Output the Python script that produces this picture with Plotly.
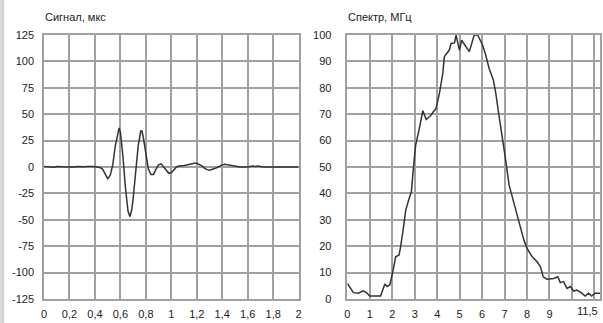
import plotly.graph_objects as go
from plotly.subplots import make_subplots

# Signal (time in microseconds, amplitude)
signal_t = [0.00, 0.02, 0.04, 0.06, 0.08, 0.10, 0.12, 0.14, 0.16, 0.18, 0.20, 0.22, 0.24,
            0.26, 0.28, 0.30, 0.32, 0.34, 0.36, 0.38, 0.40, 0.42, 0.44, 0.46, 0.48, 0.50,
            0.52, 0.54, 0.56, 0.58, 0.59, 0.60, 0.62, 0.64, 0.66, 0.675, 0.69, 0.70, 0.72,
            0.74, 0.76, 0.77, 0.78, 0.80, 0.82, 0.84, 0.86, 0.88, 0.90, 0.92, 0.94, 0.96,
            0.98, 1.00, 1.02, 1.04, 1.06, 1.08, 1.10, 1.12, 1.14, 1.16, 1.18, 1.20, 1.22,
            1.24, 1.26, 1.28, 1.30, 1.32, 1.34, 1.36, 1.38, 1.40, 1.42, 1.44, 1.46, 1.48,
            1.50, 1.52, 1.54, 1.56, 1.58, 1.60, 1.62, 1.64, 1.66, 1.68, 1.70, 1.72, 1.76,
            1.80, 1.85, 1.90, 1.95, 2.00]
signal_v = [0.5, 0.3, 0.8, 0.2, -0.3, 0.5, 0.3, 0.0, -0.3, 0.2, 0.0, 0.3, 0.0,
            0.5, 0.2, 0.6, 0.2, 0.4, 0.8, 0.5, 0.3, 0.0, -0.5, -2.0, -6.0, -11.0,
            -8.0, 2.0, 20.0, 34.0, 37.0, 33.0, 10.0, -20.0, -42.0, -47.0, -40.0, -30.0, -5.0,
            20.0, 34.0, 34.0, 28.0, 12.0, -2.0, -7.0, -7.0, -2.0, 2.0, 3.0, 0.0, -4.0,
            -6.0, -5.5, -3.0, 0.0, 1.0, 1.0, 1.5, 1.8, 2.5, 3.0, 3.5, 3.5, 2.5,
            1.0, -1.0, -2.5, -3.0, -2.5, -1.5, -0.5, 1.0, 2.0, 2.5, 2.0, 1.5, 1.0,
            0.5, 0.3, 0.0, 0.0, -0.3, 0.0, 0.5, 1.0, 0.5, 1.0, 0.5, 0.0, 0.0,
            0.0, 0.0, 0.0, 0.0, 0.0]

# Spectrum (frequency in MHz, relative level %)
spec_f = [0.00, 0.27, 0.49, 0.71, 0.85, 1.00, 1.48, 1.67, 1.77, 1.89, 2.04, 2.15, 2.30,
          2.36, 2.48, 2.60, 2.74, 2.85, 2.92, 2.97, 3.04, 3.19, 3.36, 3.51, 3.69, 3.84,
          3.95, 4.10, 4.25, 4.32, 4.54, 4.62, 4.77, 4.84, 4.99, 5.09, 5.28, 5.43, 5.58,
          5.65, 5.80, 6.02, 6.16, 6.31, 6.50, 6.61, 6.76, 6.90, 7.05, 7.20, 7.42, 7.64,
          7.86, 8.00, 8.23, 8.45, 8.60, 8.72, 8.89, 9.19, 9.37, 9.48, 9.63, 9.78, 9.93,
          10.08, 10.22, 10.44, 10.59, 10.74, 10.88, 11.03, 11.25]
spec_v = [5.9, 2.4, 2.2, 3.1, 2.4, 1.1, 1.1, 5.7, 4.7, 5.3, 11.0, 16.0, 16.7,
          19.2, 26.0, 33.7, 37.8, 40.6, 47.6, 53.0, 58.3, 64.0, 71.3, 68.0, 69.3, 71.0,
          72.2, 77.9, 85.5, 91.8, 94.3, 96.8, 97.0, 100.0, 94.3, 98.0, 95.6, 93.7, 98.0,
          100.0, 100.0, 96.2, 92.4, 87.4, 83.0, 77.9, 69.0, 61.5, 52.6, 43.2, 36.2, 28.7,
          22.3, 19.2, 16.0, 14.1, 12.2, 8.4, 7.5, 7.8, 8.4, 6.2, 6.6, 4.0, 4.7,
          3.0, 3.4, 2.2, 1.1, 2.2, 1.1, 2.2, 2.2]

left_xticks = [0, 0.2, 0.4, 0.6, 0.8, 1.0, 1.2, 1.4, 1.6, 1.8, 2.0]
left_xtext = ["0", "0,2", "0,4", "0,6", "0,8", "1", "1,2", "1,4", "1,6", "1,8", "2"]
left_yticks = [-125, -100, -75, -50, -25, 0, 25, 50, 75, 100, 125]
left_ytext = ["-125", "-100", "-75", "-50", "-25", "0", "25", "50", "75", "100", "125"]
right_xticks = [0, 1, 2, 3, 4, 5, 6, 7, 8, 9, 10, 11]
right_xtext = ["0", "1", "2", "3", "4", "5", "6", "7", "8", "9", "", ""]
right_yticks = [0, 10, 20, 30, 40, 50, 60, 70, 80, 90, 100]

W, H = 603, 323
ML, MR, MT, MB = 44, 0, 35, 24
pw = W - ML - MR
ph = H - MT - MB
left_dom = [0, (300 - ML) / pw]
right_dom = [(349 - ML) / pw, 1]

GRID = "#a0a0a0"
LINE = "#333333"
FONT = dict(family="Liberation Sans, Arial, sans-serif", size=11, color="#222222")

fig = make_subplots(rows=1, cols=2)
fig.add_trace(go.Scatter(x=signal_t, y=signal_v, mode="lines",
                         line=dict(color=LINE, width=1.5), showlegend=False), row=1, col=1)
fig.add_trace(go.Scatter(x=spec_f, y=spec_v, mode="lines",
                         line=dict(color=LINE, width=1.5), showlegend=False), row=1, col=2)

axis_common = dict(showgrid=True, gridcolor=GRID, gridwidth=1.5, zeroline=False,
                   showline=True, linecolor=GRID, linewidth=1.5, mirror=True,
                   ticks="", tickfont=FONT)

fig.update_xaxes(domain=left_dom, range=[0, 2], tickvals=left_xticks, ticktext=left_xtext,
                 ticklabelstandoff=4, row=1, col=1, **axis_common)
fig.update_yaxes(range=[-125, 125], tickvals=left_yticks, ticktext=left_ytext,
                 ticklabelstandoff=6, row=1, col=1, **axis_common)
fig.update_xaxes(domain=right_dom, range=[0, 11.25], tickvals=right_xticks, ticktext=right_xtext,
                 ticklabelstandoff=4, row=1, col=2, **axis_common)
fig.update_yaxes(range=[0, 100], tickvals=right_yticks, ticklabelstandoff=12,
                 row=1, col=2, **axis_common)

fig.add_annotation(text="Сигнал, мкс", xref="paper", yref="paper", x=left_dom[0] - 1 / pw,
                   y=1 + 10 / ph, xanchor="left", yanchor="bottom",
                   showarrow=False, font=FONT)
fig.add_annotation(text="Спектр, МГц", xref="paper", yref="paper", x=right_dom[0] - 1 / pw,
                   y=1 + 10 / ph, xanchor="left", yanchor="bottom",
                   showarrow=False, font=FONT)
fig.add_annotation(text="11,5", xref="paper", yref="paper", x=1, y=0, yanchor="top",
                   xanchor="right", yshift=-4, showarrow=False, font=FONT)

# window frame strip at far left
fig.add_shape(type="rect", xref="paper", yref="paper", x0=-ML / pw, x1=-(ML - 4) / pw,
              y0=-MB / ph, y1=1 + MT / ph,
              fillcolor="#d4d4d4", line=dict(width=0), layer="below")

fig.update_layout(width=W, height=H, margin=dict(l=ML, r=MR, t=MT, b=MB),
                  paper_bgcolor="white", plot_bgcolor="white", font=FONT)

fig.write_html("out.html", config={"displayModeBar": False},
               post_script="document.body.style.margin='0';document.body.style.overflow='hidden';")
